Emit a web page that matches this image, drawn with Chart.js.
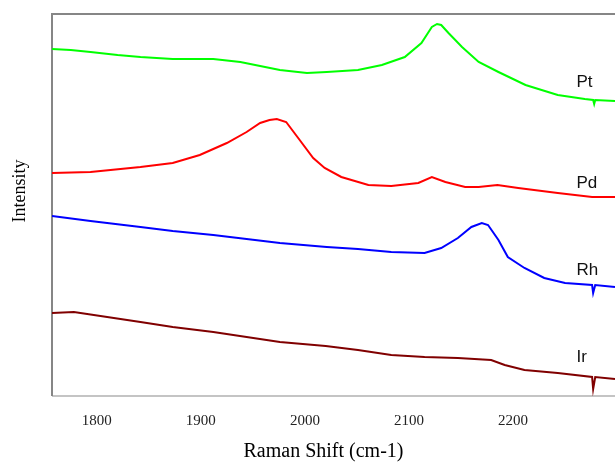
<!DOCTYPE html>
<html>
<head>
<meta charset="utf-8">
<script src="https://cdn.jsdelivr.net/npm/chart.js@4"></script>
<style>
    html, body { margin: 0; padding: 0; background: #fff; }
    #wrap { width: 615px; height: 465px; }
</style>
</head>
<body>
<div id="wrap"><canvas id="raman"></canvas></div>
<script>
// Raman Shift (cm-1) and intensity (arbitrary units)
const xTicks = [1800, 1900, 2000, 2100, 2200];

const ptShift = [1757, 1775, 1794, 1820, 1842, 1873, 1912, 1938, 1957, 1976, 2002, 2021, 2051, 2074, 2096, 2112, 2122, 2127, 2131, 2138, 2151, 2167, 2186, 2212, 2243, 2269, 2277, 2278, 2279, 2298];
const ptIntensity = [347, 346, 344, 341, 339, 337, 337, 334, 330, 326, 323, 324, 326, 331, 339, 353, 369, 372, 371, 363, 349, 334, 324, 311, 301, 297, 296, 292, 296, 295];

const pdShift = [1757, 1794, 1842, 1873, 1899, 1925, 1944, 1957, 1966, 1973, 1982, 1995, 2008, 2019, 2035, 2061, 2083, 2109, 2122, 2135, 2154, 2167, 2185, 2205, 2243, 2276, 2298];
const pdIntensity = [223, 224, 229, 233, 241, 253, 264, 273, 276, 277, 274, 256, 238, 228, 219, 211, 210, 213, 219, 214, 209, 209, 211, 208, 203, 199, 199];

const rhShift = [1757, 1794, 1842, 1873, 1912, 1944, 1976, 2021, 2051, 2083, 2115, 2131, 2147, 2160, 2170, 2176, 2186, 2195, 2211, 2230, 2250, 2276, 2277, 2279, 2298];
const rhIntensity = [180, 175, 169, 165, 161, 157, 153, 149, 147, 144, 143, 148, 158, 169, 173, 171, 156, 139, 128, 118, 113, 111, 103, 111, 109];

const irShift = [1757, 1778, 1810, 1842, 1873, 1912, 1944, 1976, 2020, 2051, 2083, 2115, 2147, 2179, 2192, 2211, 2243, 2276, 2277, 2279, 2298];
const irIntensity = [83, 84, 79, 74, 69, 64, 59, 54, 50, 46, 41, 39, 38, 36, 31, 26, 23, 19, 7, 19, 17];

const seriesNames = ['Pt', 'Pd', 'Rh', 'Ir'];
const seriesColors = ['#00ff00', '#ff0000', '#0000ff', '#800000'];

function toPoints(xs, ys) {
    return xs.map((x, i) => ({ x: x, y: ys[i] }));
}

const allSeries = [
    toPoints(ptShift, ptIntensity),
    toPoints(pdShift, pdIntensity),
    toPoints(rhShift, rhIntensity),
    toPoints(irShift, irIntensity)
];

// where the series names sit, in data units
const nameAt = { x: 2261, y: [314, 213, 126, 39] };

const serif = '"Liberation Serif", "Times New Roman", serif';

const framePlugin = {
    id: 'frame',
    beforeDatasetsDraw(chart) {
        const a = chart.chartArea;
        const c = chart.ctx;
        c.save();
        c.lineWidth = 2;
        c.strokeStyle = '#c4c4c4';
        c.beginPath();
        c.moveTo(a.left, a.bottom);
        c.lineTo(chart.width, a.bottom);
        c.stroke();
        c.strokeStyle = '#868686';
        c.beginPath();
        c.moveTo(a.left, a.bottom);
        c.lineTo(a.left, a.top);
        c.lineTo(chart.width, a.top);
        c.stroke();
        c.restore();
    },
    afterDatasetsDraw(chart) {
        const a = chart.chartArea;
        const c = chart.ctx;
        const xs = chart.scales.x;
        const ys = chart.scales.y;
        c.save();
        c.font = '17px "Liberation Sans", Arial, sans-serif';
        c.fillStyle = '#111';
        c.textAlign = 'left';
        c.textBaseline = 'middle';
        seriesNames.forEach((n, i) => {
            c.fillText(n, xs.getPixelForValue(nameAt.x), ys.getPixelForValue(nameAt.y[i]));
        });

        // axis titles, sitting a little off centre like the original
        c.fillStyle = '#000';
        c.textAlign = 'center';
        c.font = '20px ' + serif;
        c.fillText('Raman Shift (cm-1)', (a.left + a.right) / 2 - 10, chart.height - 13);
        c.font = '18px ' + serif;
        c.translate(20, (a.top + a.bottom) / 2 - 14);
        c.rotate(-Math.PI / 2);
        c.fillText('Intensity', 0, 0);
        c.restore();
    }
};

new Chart(document.getElementById('raman'), {
    type: 'line',
    data: {
        datasets: allSeries.map((pts, i) => ({
            label: seriesNames[i],
            data: pts,
            borderColor: seriesColors[i],
            borderWidth: 2,
            pointRadius: 0,
            tension: 0,
            fill: false
        }))
    },
    options: {
        responsive: true,
        maintainAspectRatio: false,
        animation: false,
        layout: { padding: { top: 14, right: 0, bottom: 0, left: 0 } },
        plugins: {
            legend: { display: false },
            tooltip: { enabled: false }
        },
        scales: {
            x: {
                type: 'linear',
                min: 1757,
                max: 2298,
                afterBuildTicks: (scale) => {
                    scale.ticks = xTicks.map(v => ({ value: v }));
                },
                afterFit: (scale) => { scale.height = 69; },
                grid: { display: false, drawTicks: false },
                border: { display: false },
                ticks: {
                    padding: 16,
                    maxRotation: 0,
                    color: '#222',
                    font: { family: serif, size: 15 },
                    callback: (v) => String(v)
                }
            },
            y: {
                min: 0,
                max: 382,
                afterFit: (scale) => { scale.width = 52; },
                grid: { display: false, drawTicks: false },
                border: { display: false },
                ticks: { display: false }
            }
        }
    },
    plugins: [framePlugin]
});
</script>
</body>
</html>
